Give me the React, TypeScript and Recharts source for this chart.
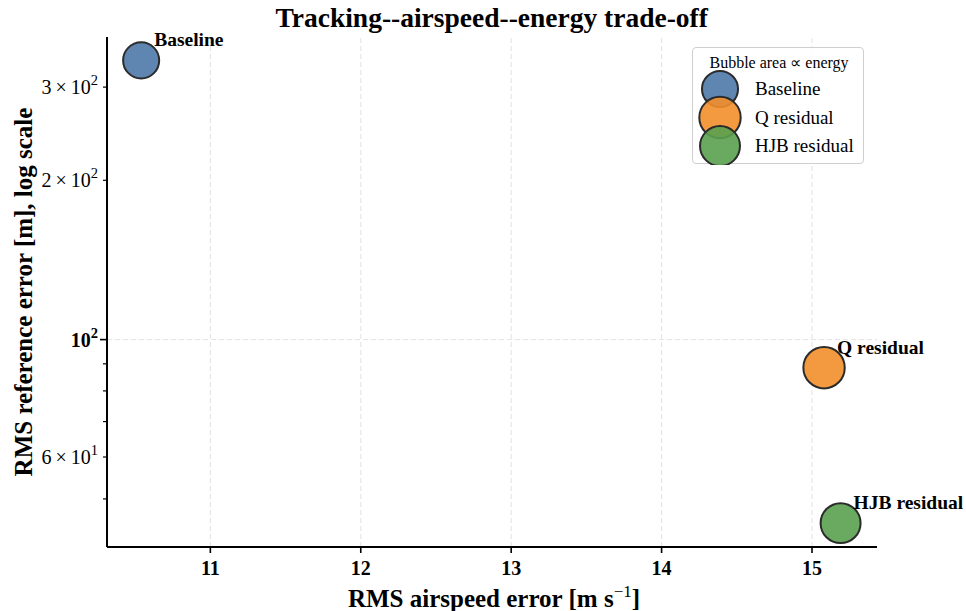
import { ScatterChart, Scatter, XAxis, YAxis, ReferenceLine, Legend, Label } from "recharts";

const methods = ["Baseline", "Q residual", "HJB residual"];
const airspeedRms = [10.54, 15.08, 15.19];
const referenceRms = [337, 88.5, 45.0];
const energy = [1.0, 1.32, 1.23];
const colors = ["#4e79a7", "#f28e2b", "#59a14f"];

const xTicks = [11, 12, 13, 14, 15];
const yTicks = [50, 60, 70, 80, 90, 100, 200, 300];
const yMajor = [100];
const yLabelled = [60, 100, 200, 300];

const SERIF = "'Liberation Serif', 'Times New Roman', serif";
const maxEnergy = Math.max(...energy);
const bubbleRadius = (e: number) => 20.7 * Math.sqrt(e / maxEnergy);

function yTickText(v: number) {
  const exp = Math.floor(Math.log10(v) + 1e-9);
  const mant = Math.round(v / Math.pow(10, exp));
  return { mant, exp };
}

function YTick(props: any) {
  const { x, y, payload } = props;
  const v = payload.value as number;
  const major = yMajor.includes(v);
  const { mant, exp } = yTickText(v);
  return (
    <g>
      <line x1={x} x2={x - (major ? 7 : 4)} y1={y} y2={y} stroke="#000" strokeWidth={major ? 1.6 : 1.2} />
      {yLabelled.includes(v) && (
        <text
          x={x - 9}
          y={y + 7}
          textAnchor="end"
          fontFamily={SERIF}
          fontSize={20}
          fontWeight={major ? "bold" : "normal"}
          fill="#000"
        >
          {mant === 1 ? "10" : `${mant}\u2009×\u200910`}
          <tspan dy={-9} fontSize={14.5}>{exp}</tspan>
        </text>
      )}
    </g>
  );
}

function XTick(props: any) {
  const { x, y, payload } = props;
  return (
    <g>
      <line x1={x} x2={x} y1={y} y2={y + 6} stroke="#000" strokeWidth={1.6} />
      <text x={x} y={y + 28} textAnchor="middle" fontFamily={SERIF} fontSize={20} fontWeight="bold" fill="#000">
        {payload.value}
      </text>
    </g>
  );
}

function Bubble(props: any) {
  const { cx, cy, payload, fill } = props;
  const r = bubbleRadius(payload.energy);
  return (
    <g>
      <circle cx={cx} cy={cy} r={r} fill={fill} fillOpacity={0.9} stroke="#2b2b2b" strokeWidth={2} />
      <text x={cx + 13} y={cy - 14} fontFamily={SERIF} fontSize={19.5} fontWeight="bold" fill="#000">
        {payload.method}
      </text>
    </g>
  );
}

function BubbleLegend() {
  return (
    <div
      style={{
        width: 172,
        height: 117,
        border: "1.5px solid #cfcfcf",
        borderRadius: 4,
        background: "rgba(255,255,255,0.85)",
        boxSizing: "border-box",
      }}
    >
      <svg width={172} height={117}>
        <text x={86} y={20} textAnchor="middle" fontFamily={SERIF} fontSize={16} fill="#000">
          Bubble area ∝ energy
        </text>
        {methods.map((m, i) => (
          <g key={m}>
            <circle
              cx={27}
              cy={41 + i * 28.5}
              r={bubbleRadius(energy[i])}
              fill={colors[i]}
              fillOpacity={0.9}
              stroke="#2b2b2b"
              strokeWidth={2}
            />
            <text x={62} y={47 + i * 28.5} fontFamily={SERIF} fontSize={19} fill="#000">
              {m}
            </text>
          </g>
        ))}
      </svg>
    </div>
  );
}

export default function App() {
  return (
    <div style={{ position: "absolute", left: 0, top: 0, width: 966, height: 611, background: "#fff" }}>
      <ScatterChart width={966} height={611} margin={{ top: 37, right: 89, bottom: 0, left: 0 }}>
        <text x={491.7} y={27} textAnchor="middle" fontFamily={SERIF} fontSize={27.5} fontWeight="bold" fill="#000">
          Tracking--airspeed--energy trade-off
        </text>
        <XAxis
          type="number"
          dataKey="airspeed"
          domain={[10.313, 15.432]}
          ticks={xTicks}
          interval={0}
          height={64}
          tickSize={0}
          tickMargin={0}
          tickLine={false}
          tick={<XTick />}
          axisLine={{ stroke: "#000", strokeWidth: 2 }}
        >
          <Label
            content={(p: any) => {
              const vb = p.viewBox;
              return (
                <text
                  x={vb.x + vb.width / 2 + 2}
                  y={vb.y + 60}
                  textAnchor="middle"
                  fontFamily={SERIF}
                  fontSize={25}
                  fontWeight="bold"
                  fill="#000"
                >
                  RMS airspeed error [m s
                  <tspan dy={-10} fontSize={17} fontWeight="normal">−1</tspan>
                  <tspan dy={10}>]</tspan>
                </text>
              );
            }}
          />
        </XAxis>
        <YAxis
          type="number"
          dataKey="reference"
          scale="log"
          domain={[40.56, 373.1]}
          ticks={yTicks}
          interval={0}
          width={107}
          tickSize={0}
          tickMargin={0}
          tickLine={false}
          tick={<YTick />}
          axisLine={{ stroke: "#000", strokeWidth: 2 }}
        >
          <Label
            content={(p: any) => {
              const vb = p.viewBox;
              const cy = vb.y + vb.height / 2;
              return (
                <text
                  x={32}
                  y={cy}
                  transform={`rotate(-90, 32, ${cy})`}
                  textAnchor="middle"
                  fontFamily={SERIF}
                  fontSize={25}
                  fontWeight="bold"
                  fill="#000"
                >
                  RMS reference error [m], log scale
                </text>
              );
            }}
          />
        </YAxis>
        {xTicks.map((t) => (
          <ReferenceLine key={`vx${t}`} x={t} stroke="#e3e3e3" strokeDasharray="5 3" strokeWidth={1} />
        ))}
        {yMajor.map((t) => (
          <ReferenceLine key={`hy${t}`} y={t} stroke="#e3e3e3" strokeDasharray="5 3" strokeWidth={1} />
        ))}
        {methods.map((m, i) => (
          <Scatter
            key={m}
            name={m}
            data={[{ method: m, airspeed: airspeedRms[i], reference: referenceRms[i], energy: energy[i] }]}
            fill={colors[i]}
            shape={<Bubble />}
            isAnimationActive={false}
          />
        ))}
        <Legend
          layout="vertical"
          align="center"
          verticalAlign="middle"
          wrapperStyle={{ position: "absolute", left: 692, top: 47, width: 172 }}
          content={() => <BubbleLegend />}
        />
      </ScatterChart>
    </div>
  );
}
